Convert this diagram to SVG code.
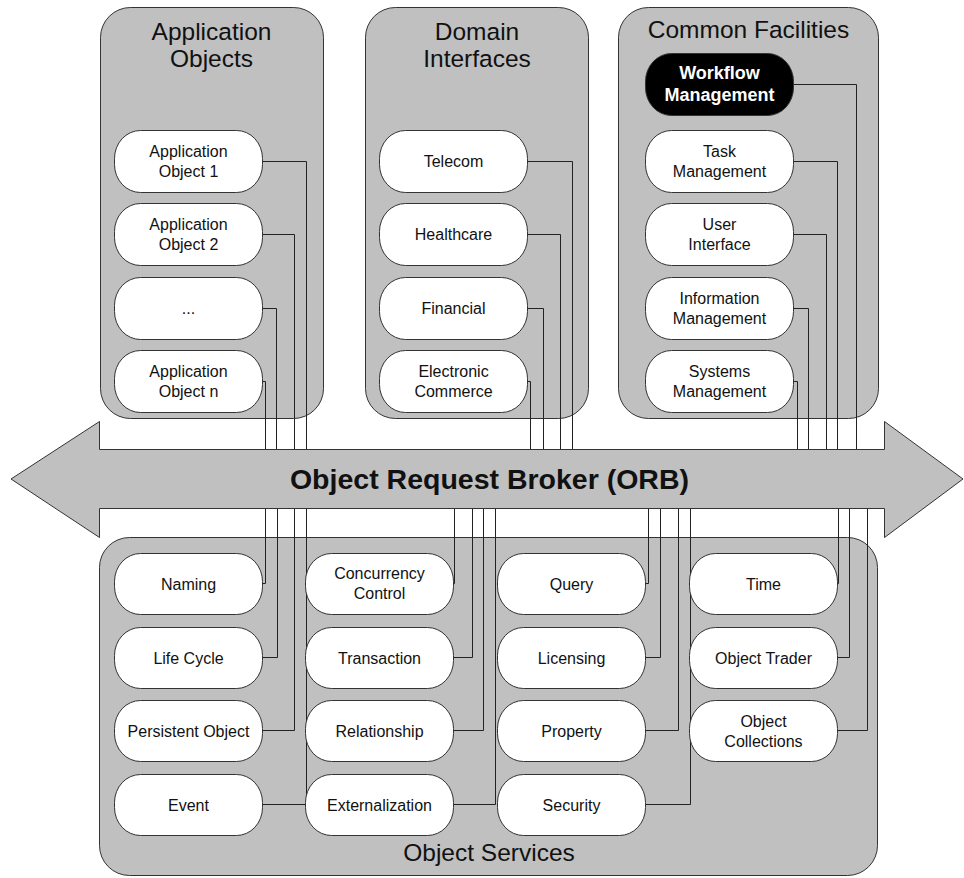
<svg xmlns="http://www.w3.org/2000/svg" width="964" height="878" viewBox="0 0 964 878">
  <style>
    .box { fill: #c0c0c0; stroke: #333; stroke-width: 1; }
    .node rect { fill: #ffffff; stroke: #333; stroke-width: 1; }
    .node text { font-family: "Liberation Sans", Arial, sans-serif; font-size: 16px; fill: #111; text-anchor: middle; }
    .node.dark rect { fill: #000; }
    .node.dark text { fill: #fff; font-weight: bold; font-size: 18px; }
    .title { font-family: "Liberation Sans", Arial, sans-serif; font-size: 24.5px; fill: #111; text-anchor: middle; }
    .orb { fill: #c0c0c0; stroke: #333; stroke-width: 1; }
    .orb-label { font-family: "Liberation Sans", Arial, sans-serif; font-size: 28.5px; font-weight: bold; fill: #111; text-anchor: middle; }
    .wire { fill: none; stroke: #222; stroke-width: 1; }
  </style>

  <!-- Group containers -->
  <g id="application-objects">
    <rect class="box" x="100.5" y="7.5" width="223" height="411" rx="30" ry="30"/>
    <text class="title" x="211.5" y="39.5">Application</text>
    <text class="title" x="211.5" y="67">Objects</text>
  </g>
  <g id="domain-interfaces">
    <rect class="box" x="365.5" y="7.5" width="223" height="411" rx="30" ry="30"/>
    <text class="title" x="477" y="39.5">Domain</text>
    <text class="title" x="477" y="67">Interfaces</text>
  </g>
  <g id="common-facilities">
    <rect class="box" x="618.5" y="7.5" width="260" height="411" rx="30" ry="30"/>
    <text class="title" x="748.5" y="37.5">Common Facilities</text>
  </g>
  <g id="object-services">
    <rect class="box" x="99.5" y="537.5" width="778" height="338" rx="30" ry="30"/>
    <text class="title" x="489" y="861">Object Services</text>
  </g>

  <!-- Connectors: each node runs right, then to the bus -->
  <g id="connectors">
    <!-- Application Objects -->
    <path class="wire" d="M262 161.5 H306.5 V449"/>
    <path class="wire" d="M262 234.5 H294.5 V449"/>
    <path class="wire" d="M262 308.5 H276.5 V449"/>
    <path class="wire" d="M262 381.5 H265.5 V449"/>
    <!-- Domain Interfaces -->
    <path class="wire" d="M527 161.5 H572.5 V449"/>
    <path class="wire" d="M527 234.5 H560.5 V449"/>
    <path class="wire" d="M527 308.5 H543.5 V449"/>
    <path class="wire" d="M527 381.5 H530.5 V449"/>
    <!-- Common Facilities -->
    <path class="wire" d="M793 84.5 H856.5 V449"/>
    <path class="wire" d="M793 161.5 H837.5 V449"/>
    <path class="wire" d="M793 234.5 H826.5 V449"/>
    <path class="wire" d="M793 308.5 H808.5 V449"/>
    <path class="wire" d="M793 381.5 H797.5 V449"/>
    <!-- Object Services, column 1 -->
    <path class="wire" d="M262 583.5 H265.5 V508"/>
    <path class="wire" d="M262 657.5 H277.5 V508"/>
    <path class="wire" d="M262 730.5 H294.5 V508"/>
    <path class="wire" d="M262 804.5 H306.5 V508"/>
    <!-- Object Services, column 2 -->
    <path class="wire" d="M453 583.5 H454.5 V508"/>
    <path class="wire" d="M453 657.5 H472.5 V508"/>
    <path class="wire" d="M453 730.5 H483.5 V508"/>
    <path class="wire" d="M453 804.5 H495.5 V508"/>
    <!-- Object Services, column 3 -->
    <path class="wire" d="M646 583.5 H648.5 V508"/>
    <path class="wire" d="M646 657.5 H660.5 V508"/>
    <path class="wire" d="M646 730.5 H678.5 V508"/>
    <path class="wire" d="M646 804.5 H690.5 V508"/>
    <!-- Object Services, column 4 -->
    <path class="wire" d="M837 583.5 H838.5 V508"/>
    <path class="wire" d="M837 657.5 H849.5 V508"/>
    <path class="wire" d="M837 730.5 H867.5 V508"/>
  </g>

  <!-- ORB double-headed arrow -->
  <g id="orb">
    <polygon class="orb" points="11,479 99.5,421.5 99.5,449.5 884.5,449.5 884.5,421.5 963,479 884.5,537.5 884.5,508.5 99.5,508.5 99.5,537.5"/>
    <text class="orb-label" x="489.5" y="488.5">Object Request Broker (ORB)</text>
  </g>

  <!-- Application Objects nodes -->
  <g id="app-object-1" class="node"><rect x="114.5" y="130.5" width="148" height="62" rx="26" ry="28"/><text x="188.5" y="157">Application</text><text x="188.5" y="177">Object 1</text></g>
  <g id="app-object-2" class="node"><rect x="114.5" y="203.5" width="148" height="62" rx="26" ry="28"/><text x="188.5" y="230">Application</text><text x="188.5" y="250">Object 2</text></g>
  <g id="app-object-more" class="node"><rect x="114.5" y="277.5" width="148" height="62" rx="26" ry="28"/><text x="188.5" y="314">...</text></g>
  <g id="app-object-n" class="node"><rect x="114.5" y="350.5" width="148" height="62" rx="26" ry="28"/><text x="188.5" y="377">Application</text><text x="188.5" y="397">Object n</text></g>

  <!-- Domain Interfaces nodes -->
  <g id="telecom" class="node"><rect x="379.5" y="130.5" width="148" height="62" rx="26" ry="28"/><text x="453.5" y="167">Telecom</text></g>
  <g id="healthcare" class="node"><rect x="379.5" y="203.5" width="148" height="62" rx="26" ry="28"/><text x="453.5" y="240">Healthcare</text></g>
  <g id="financial" class="node"><rect x="379.5" y="277.5" width="148" height="62" rx="26" ry="28"/><text x="453.5" y="314">Financial</text></g>
  <g id="electronic-commerce" class="node"><rect x="379.5" y="350.5" width="148" height="62" rx="26" ry="28"/><text x="453.5" y="377">Electronic</text><text x="453.5" y="397">Commerce</text></g>

  <!-- Common Facilities nodes -->
  <g id="workflow-management" class="node dark"><rect x="645.5" y="53.5" width="148" height="62" rx="26" ry="28"/><text x="719.5" y="79">Workflow</text><text x="719.5" y="100.5">Management</text></g>
  <g id="task-management" class="node"><rect x="645.5" y="130.5" width="148" height="62" rx="26" ry="28"/><text x="719.5" y="157">Task</text><text x="719.5" y="177">Management</text></g>
  <g id="user-interface" class="node"><rect x="645.5" y="203.5" width="148" height="62" rx="26" ry="28"/><text x="719.5" y="230">User</text><text x="719.5" y="250">Interface</text></g>
  <g id="information-management" class="node"><rect x="645.5" y="277.5" width="148" height="62" rx="26" ry="28"/><text x="719.5" y="304">Information</text><text x="719.5" y="324">Management</text></g>
  <g id="systems-management" class="node"><rect x="645.5" y="350.5" width="148" height="62" rx="26" ry="28"/><text x="719.5" y="377">Systems</text><text x="719.5" y="397">Management</text></g>

  <!-- Object Services nodes, column 1 -->
  <g id="naming" class="node"><rect x="114.5" y="553.5" width="148" height="61" rx="26" ry="28"/><text x="188.5" y="589.5">Naming</text></g>
  <g id="life-cycle" class="node"><rect x="114.5" y="627.5" width="148" height="61" rx="26" ry="28"/><text x="188.5" y="663.5">Life Cycle</text></g>
  <g id="persistent-object" class="node"><rect x="114.5" y="700.5" width="148" height="61" rx="26" ry="28"/><text x="188.5" y="736.5">Persistent Object</text></g>
  <g id="event" class="node"><rect x="114.5" y="774.5" width="148" height="61" rx="26" ry="28"/><text x="188.5" y="810.5">Event</text></g>

  <!-- Object Services nodes, column 2 -->
  <g id="concurrency-control" class="node"><rect x="305.5" y="553.5" width="148" height="61" rx="26" ry="28"/><text x="379.5" y="579">Concurrency</text><text x="379.5" y="599">Control</text></g>
  <g id="transaction" class="node"><rect x="305.5" y="627.5" width="148" height="61" rx="26" ry="28"/><text x="379.5" y="663.5">Transaction</text></g>
  <g id="relationship" class="node"><rect x="305.5" y="700.5" width="148" height="61" rx="26" ry="28"/><text x="379.5" y="736.5">Relationship</text></g>
  <g id="externalization" class="node"><rect x="305.5" y="774.5" width="148" height="61" rx="26" ry="28"/><text x="379.5" y="810.5">Externalization</text></g>

  <!-- Object Services nodes, column 3 -->
  <g id="query" class="node"><rect x="497.5" y="553.5" width="148" height="61" rx="26" ry="28"/><text x="571.5" y="589.5">Query</text></g>
  <g id="licensing" class="node"><rect x="497.5" y="627.5" width="148" height="61" rx="26" ry="28"/><text x="571.5" y="663.5">Licensing</text></g>
  <g id="property" class="node"><rect x="497.5" y="700.5" width="148" height="61" rx="26" ry="28"/><text x="571.5" y="736.5">Property</text></g>
  <g id="security" class="node"><rect x="497.5" y="774.5" width="148" height="61" rx="26" ry="28"/><text x="571.5" y="810.5">Security</text></g>

  <!-- Object Services nodes, column 4 -->
  <g id="time" class="node"><rect x="689.5" y="553.5" width="148" height="61" rx="26" ry="28"/><text x="763.5" y="589.5">Time</text></g>
  <g id="object-trader" class="node"><rect x="689.5" y="627.5" width="148" height="61" rx="26" ry="28"/><text x="763.5" y="663.5">Object Trader</text></g>
  <g id="object-collections" class="node"><rect x="689.5" y="700.5" width="148" height="61" rx="26" ry="28"/><text x="763.5" y="727">Object</text><text x="763.5" y="747">Collections</text></g>
</svg>
